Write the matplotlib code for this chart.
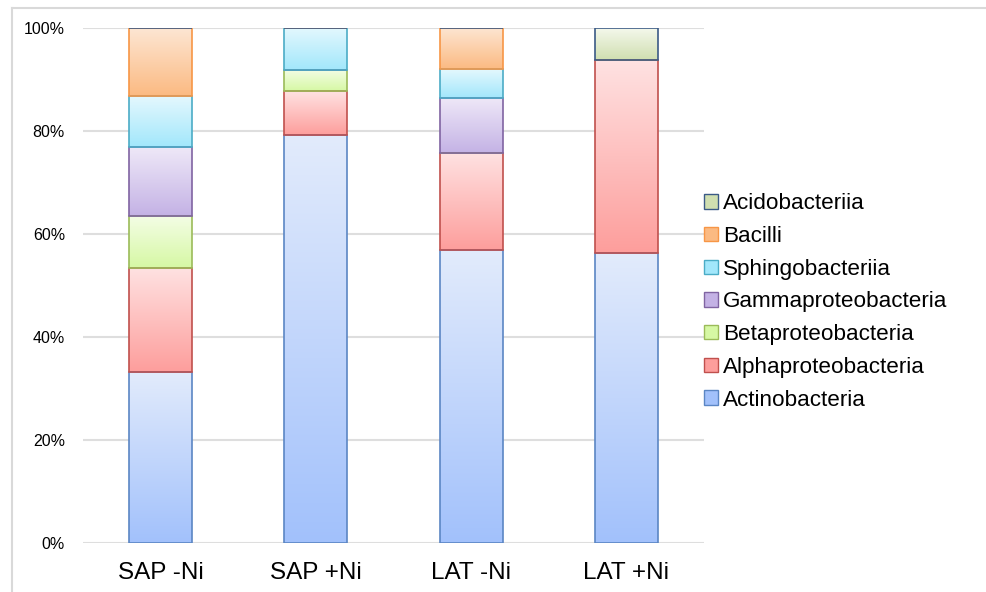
import matplotlib
matplotlib.use('Agg')
import matplotlib.pyplot as plt
from matplotlib.patches import Patch
from matplotlib.lines import Line2D
from matplotlib.colors import to_rgb
import numpy as np

plt.rcParams['font.family'] = ['Liberation Sans', 'DejaVu Sans']

samples = ['SAP -Ni', 'SAP +Ni', 'LAT -Ni', 'LAT +Ni']
classes = ['Actinobacteria', 'Alphaproteobacteria', 'Betaproteobacteria',
           'Gammaproteobacteria', 'Sphingobacteriia', 'Bacilli', 'Acidobacteriia']

actinobacteria = [33.2, 79.2, 56.8, 56.3]
alphaproteobacteria = [20.2, 8.5, 19.0, 37.5]
betaproteobacteria = [10.1, 4.1, 0.0, 0.0]
gammaproteobacteria = [13.4, 0.0, 10.7, 0.0]
sphingobacteriia = [9.9, 8.2, 5.5, 0.0]
bacilli = [13.2, 0.0, 8.0, 0.0]
acidobacteriia = [0.0, 0.0, 0.0, 6.2]

values = [actinobacteria, alphaproteobacteria, betaproteobacteria,
          gammaproteobacteria, sphingobacteriia, bacilli, acidobacteriia]

# (top colour, bottom colour, edge colour)
styles = [
    ('#e2ebfc', '#a2c1fb', '#5b86c4'),
    ('#ffe2e2', '#fd9e9c', '#c0504d'),
    ('#f4fde6', '#d6f8a4', '#9bbb59'),
    ('#efe9f8', '#c4b2e5', '#8064a2'),
    ('#e4f8fe', '#a2e7fb', '#4bacc6'),
    ('#fde6d3', '#fbba82', '#f79646'),
    ('#f4f8ec', '#d0dfb0', '#3b5a86'),
]


def gradient(top_c, bot_c, n=128):
    t = np.linspace(0, 1, n)[:, None]
    return (1 - t) * np.array(to_rgb(bot_c)) + t * np.array(to_rgb(top_c))


fig = plt.figure(figsize=(9.86, 5.92), dpi=100)
ax = fig.add_axes([83 / 986, 49 / 592, 621 / 986, 515 / 592])

x = np.arange(len(samples))
bottom = np.zeros(len(samples))
for vals, (top_c, bot_c, edge_c) in zip(values, styles):
    vals = np.array(vals)
    bars = ax.bar(x, vals, width=0.405, bottom=bottom, facecolor='none',
                  edgecolor=edge_c, linewidth=1.2, zorder=3)
    grad = gradient(top_c, bot_c)[:, None, :]
    for b, v in zip(bars, vals):
        if v <= 0:
            continue
        x0, y0 = b.get_x(), b.get_y()
        ax.imshow(grad, extent=[x0, x0 + b.get_width(), y0, y0 + b.get_height()],
                  origin='lower', aspect='auto', interpolation='bilinear', zorder=2)
    bottom += vals

ax.set_xlim(-0.5, len(samples) - 0.5)
ax.set_ylim(0, 100)
ax.set_yticks(np.arange(0, 101, 20))
ax.set_yticklabels([f'{v}%' for v in range(0, 101, 20)], fontsize=11.5)
ax.set_xticks(x)
ax.set_xticklabels(samples, fontsize=17.5)
ax.tick_params(axis='y', length=0, pad=13)
ax.tick_params(axis='x', length=0, pad=14)
ax.grid(axis='y', color='#dedede', linewidth=1.5, zorder=0)
ax.set_axisbelow(True)
for s in ax.spines.values():
    s.set_visible(False)

handles = [Patch(facecolor=st[1], edgecolor=st[2], linewidth=1.0) for st in styles]
fig.legend(handles[::-1], classes[::-1], loc='center left',
           bbox_to_anchor=(704 / 986, 0.49), frameon=False, fontsize=16.2,
           handlelength=0.6, handleheight=0.6, handletextpad=0.25,
           labelspacing=0.52, borderpad=0, borderaxespad=0)

# outer chart frame
fig.add_artist(Line2D([12 / 986, 1], [584 / 592, 584 / 592], color='#d9d9d9',
                      linewidth=1.5, transform=fig.transFigure))
fig.add_artist(Line2D([12 / 986, 12 / 986], [0, 584 / 592], color='#d9d9d9',
                      linewidth=1.5, transform=fig.transFigure))

fig.savefig('out.png', dpi=100)
